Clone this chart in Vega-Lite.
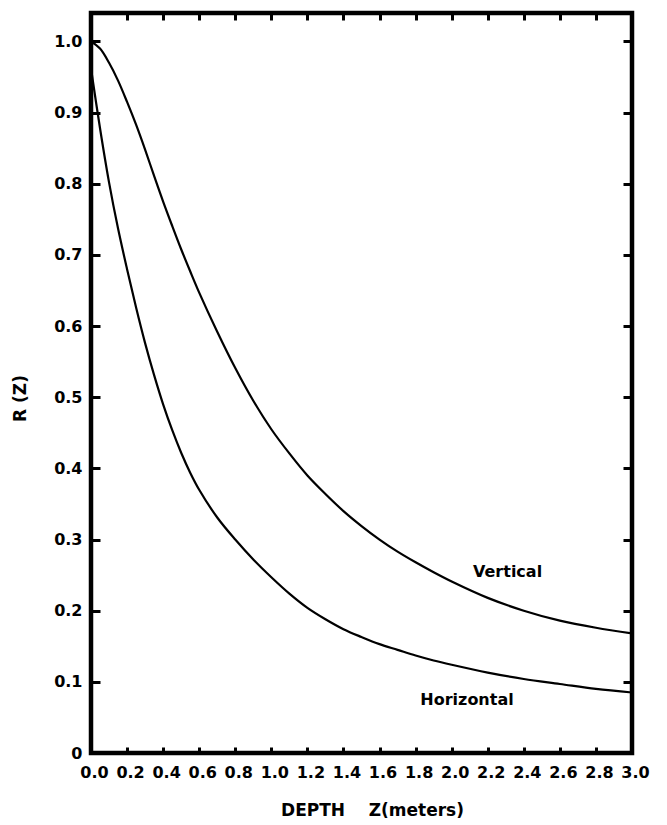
{
  "$schema": "https://vega.github.io/schema/vega-lite/v6.json",
  "width": 541,
  "height": 740,
  "autosize": {"type": "none"},
  "padding": {"left": 91, "top": 13, "right": 35, "bottom": 72},
  "background": "white",
  "config": {
    "view": {"stroke": "black", "strokeWidth": 4.5},
    "axis": {
      "domain": false,
      "grid": false,
      "tickColor": "black",
      "tickWidth": 3,
      "labelColor": "black",
      "labelFont": "DejaVu Sans",
      "labelFontWeight": "bold",
      "labelFontSize": 16,
      "labelOverlap": false,
      "labelFlush": false,
      "labelBound": false,
      "titleColor": "black",
      "titleFont": "DejaVu Sans",
      "titleFontWeight": "bold",
      "titleFontSize": 17
    }
  },
  "datasets": {
    "curves": [
      {"z": 0.0, "r": 1.0, "s": "Vertical"},
      {"z": 0.05, "r": 0.99, "s": "Vertical"},
      {"z": 0.1, "r": 0.97, "s": "Vertical"},
      {"z": 0.15, "r": 0.945, "s": "Vertical"},
      {"z": 0.2, "r": 0.915, "s": "Vertical"},
      {"z": 0.25, "r": 0.883, "s": "Vertical"},
      {"z": 0.3, "r": 0.848, "s": "Vertical"},
      {"z": 0.35, "r": 0.811, "s": "Vertical"},
      {"z": 0.4, "r": 0.775, "s": "Vertical"},
      {"z": 0.45, "r": 0.741, "s": "Vertical"},
      {"z": 0.5, "r": 0.708, "s": "Vertical"},
      {"z": 0.55, "r": 0.677, "s": "Vertical"},
      {"z": 0.6, "r": 0.647, "s": "Vertical"},
      {"z": 0.7, "r": 0.592, "s": "Vertical"},
      {"z": 0.8, "r": 0.541, "s": "Vertical"},
      {"z": 0.9, "r": 0.495, "s": "Vertical"},
      {"z": 1.0, "r": 0.455, "s": "Vertical"},
      {"z": 1.1, "r": 0.421, "s": "Vertical"},
      {"z": 1.2, "r": 0.39, "s": "Vertical"},
      {"z": 1.3, "r": 0.364, "s": "Vertical"},
      {"z": 1.4, "r": 0.34, "s": "Vertical"},
      {"z": 1.5, "r": 0.319, "s": "Vertical"},
      {"z": 1.6, "r": 0.3, "s": "Vertical"},
      {"z": 1.7, "r": 0.283, "s": "Vertical"},
      {"z": 1.8, "r": 0.268, "s": "Vertical"},
      {"z": 1.9, "r": 0.254, "s": "Vertical"},
      {"z": 2.0, "r": 0.241, "s": "Vertical"},
      {"z": 2.2, "r": 0.218, "s": "Vertical"},
      {"z": 2.4, "r": 0.2, "s": "Vertical"},
      {"z": 2.6, "r": 0.186, "s": "Vertical"},
      {"z": 2.8, "r": 0.176, "s": "Vertical"},
      {"z": 3.0, "r": 0.168, "s": "Vertical"},
      {"z": 0.0, "r": 0.962, "s": "Horizontal"},
      {"z": 0.05, "r": 0.878, "s": "Horizontal"},
      {"z": 0.1, "r": 0.802, "s": "Horizontal"},
      {"z": 0.15, "r": 0.737, "s": "Horizontal"},
      {"z": 0.2, "r": 0.68, "s": "Horizontal"},
      {"z": 0.25, "r": 0.626, "s": "Horizontal"},
      {"z": 0.3, "r": 0.576, "s": "Horizontal"},
      {"z": 0.35, "r": 0.531, "s": "Horizontal"},
      {"z": 0.4, "r": 0.49, "s": "Horizontal"},
      {"z": 0.45, "r": 0.454, "s": "Horizontal"},
      {"z": 0.5, "r": 0.422, "s": "Horizontal"},
      {"z": 0.55, "r": 0.394, "s": "Horizontal"},
      {"z": 0.6, "r": 0.37, "s": "Horizontal"},
      {"z": 0.7, "r": 0.331, "s": "Horizontal"},
      {"z": 0.8, "r": 0.3, "s": "Horizontal"},
      {"z": 0.9, "r": 0.272, "s": "Horizontal"},
      {"z": 1.0, "r": 0.247, "s": "Horizontal"},
      {"z": 1.1, "r": 0.224, "s": "Horizontal"},
      {"z": 1.2, "r": 0.204, "s": "Horizontal"},
      {"z": 1.3, "r": 0.188, "s": "Horizontal"},
      {"z": 1.4, "r": 0.174, "s": "Horizontal"},
      {"z": 1.5, "r": 0.163, "s": "Horizontal"},
      {"z": 1.6, "r": 0.153, "s": "Horizontal"},
      {"z": 1.7, "r": 0.145, "s": "Horizontal"},
      {"z": 1.8, "r": 0.137, "s": "Horizontal"},
      {"z": 1.9, "r": 0.13, "s": "Horizontal"},
      {"z": 2.0, "r": 0.124, "s": "Horizontal"},
      {"z": 2.2, "r": 0.113, "s": "Horizontal"},
      {"z": 2.4, "r": 0.104, "s": "Horizontal"},
      {"z": 2.6, "r": 0.097, "s": "Horizontal"},
      {"z": 2.8, "r": 0.09, "s": "Horizontal"},
      {"z": 3.0, "r": 0.085, "s": "Horizontal"}
    ],
    "labels": [
      {"z": 2.31, "r": 0.255, "label": "Vertical"},
      {"z": 2.085, "r": 0.075, "label": "Horizontal"}
    ]
  },
  "resolve": {"axis": {"x": "independent", "y": "independent"}},
  "layer": [
    {
      "data": {"name": "curves"},
      "mark": {"type": "line", "strokeWidth": 2.2, "interpolate": "catmull-rom", "clip": true},
      "encoding": {
        "x": {
          "field": "z", "type": "quantitative",
          "scale": {"domain": [0, 3], "nice": false, "zero": false},
          "axis": {
            "orient": "bottom",
            "title": "DEPTH\u00a0\u00a0\u00a0 Z(meters)",
            "values": [0, 0.2, 0.4, 0.6, 0.8, 1.0, 1.2, 1.4, 1.6, 1.8, 2.0, 2.2, 2.4, 2.6, 2.8, 3.0],
            "format": ".1f",
            "tickSize": -6,
            "labelPadding": 17,
            "labelOffset": 3,
            "titleX": 281,
            "titleY": 57,
            "titleBaseline": "middle",
            "titleAlign": "center"
          }
        },
        "y": {
          "field": "r", "type": "quantitative",
          "scale": {"domain": [0, 1.04], "nice": false, "zero": false},
          "axis": {
            "orient": "left",
            "title": "R (Z)",
            "values": [0, 0.1, 0.2, 0.3, 0.4, 0.5, 0.6, 0.7, 0.8, 0.9, 1.0],
            "labelExpr": "datum.value == 0 ? '0' : format(datum.value, '.1f')",
            "tickSize": -9,
            "labelPadding": 18,
            "titleX": -71,
            "titleY": 385,
            "titleBaseline": "middle",
            "titleAlign": "center"
          }
        },
        "detail": {"field": "s", "type": "nominal"},
        "color": {"value": "black"}
      }
    },
    {
      "data": {"name": "labels"},
      "mark": {"type": "text", "font": "DejaVu Sans", "fontWeight": "bold", "fontSize": 16, "color": "black"},
      "encoding": {
        "x": {
          "field": "z", "type": "quantitative",
          "axis": {
            "orient": "top",
            "title": null,
            "labels": false,
            "values": [0, 0.2, 0.4, 0.6, 0.8, 1.0, 1.2, 1.4, 1.6, 1.8, 2.0, 2.2, 2.4, 2.6, 2.8, 3.0],
            "tickSize": -7
          }
        },
        "y": {
          "field": "r", "type": "quantitative",
          "axis": {
            "orient": "right",
            "title": null,
            "labels": false,
            "values": [0, 0.1, 0.2, 0.3, 0.4, 0.5, 0.6, 0.7, 0.8, 0.9, 1.0],
            "tickSize": -9
          }
        },
        "text": {"field": "label", "type": "nominal"}
      }
    }
  ]
}
